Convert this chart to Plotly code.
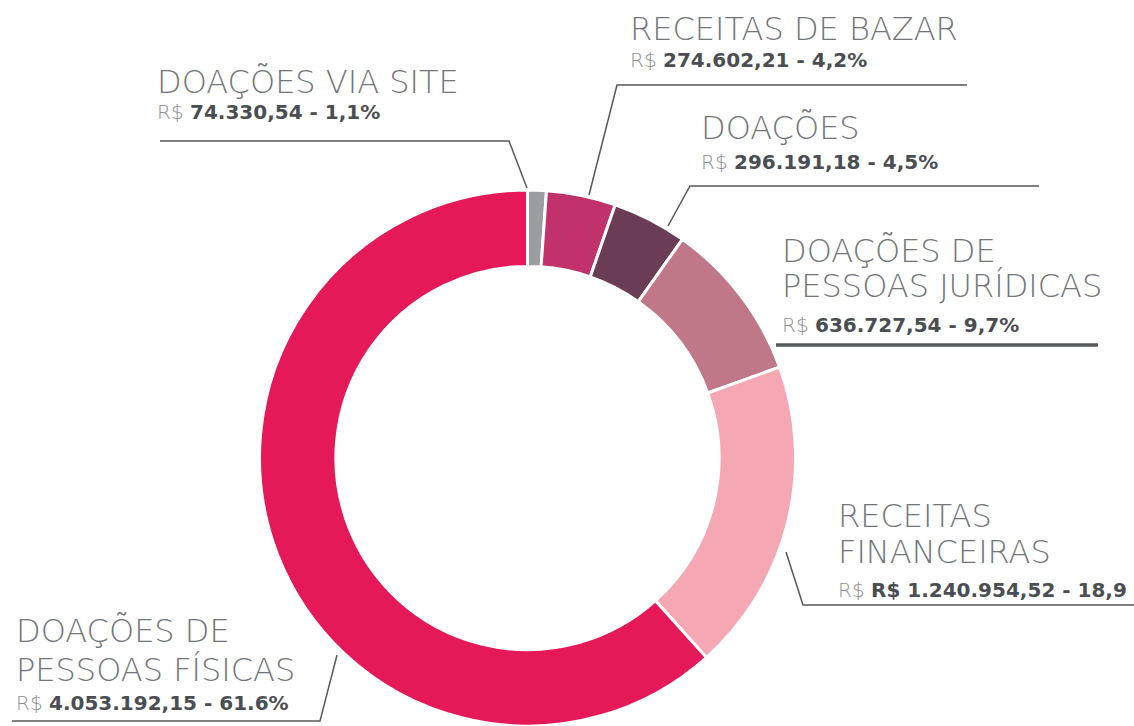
import plotly.graph_objects as go

# data
labels = [
    "DOAÇÕES VIA SITE",
    "RECEITAS DE BAZAR",
    "DOAÇÕES",
    "DOAÇÕES DE PESSOAS JURÍDICAS",
    "RECEITAS FINANCEIRAS",
    "DOAÇÕES DE PESSOAS FÍSICAS",
]
title_lines = [
    ["DOAÇÕES VIA SITE"],
    ["RECEITAS DE BAZAR"],
    ["DOAÇÕES"],
    ["DOAÇÕES DE", "PESSOAS JURÍDICAS"],
    ["RECEITAS", "FINANCEIRAS"],
    ["DOAÇÕES DE", "PESSOAS FÍSICAS"],
]
values = [74330.54, 274602.21, 296191.18, 636727.54, 1240954.52, 4053192.15]
value_texts = [
    "74.330,54 - 1,1%",
    "274.602,21 - 4,2%",
    "296.191,18 - 4,5%",
    "636.727,54 - 9,7%",
    "R$ 1.240.954,52 - 18,9",
    "4.053.192,15 - 61.6%",
]
colors = ["#9a9ea2", "#c1326b", "#6a3d55", "#c07787", "#f5a7b4", "#e51858"]

W, H = 1134, 726


def fx(x):
    return x / W


def fy(y):
    return 1 - y / H


# label layout (pixel positions: left x, title baselines, value baseline)
label_x = [156, 629, 700, 781, 837, 15]
title_base = [[94], [41], [140], [263, 298], [528, 564], [643, 682]]
value_base = [120, 68, 170, 333, 598, 711]
leaders = [
    [(160, 141), (509, 141), (527, 188)],
    [(967, 85), (617, 85), (589, 195)],
    [(1039, 186), (690, 186), (668, 226)],
    [(776, 345), (1098, 345)],
    [(786, 552), (803, 605), (1134, 605)],
    [(12, 721), (320, 721), (337, 655)],
]
leader_width = [1.5, 1.5, 1.5, 3.5, 1.5, 1.5]

fig = go.Figure()

fig.add_trace(
    go.Pie(
        labels=labels,
        values=values,
        hole=0.715,
        sort=False,
        direction="clockwise",
        rotation=0,
        textinfo="none",
        hoverinfo="label+value+percent",
        marker=dict(colors=colors, line=dict(color="white", width=3)),
        domain=dict(x=[fx(259.5), fx(795.5)], y=[0, fy(190)]),
        showlegend=False,
    )
)

title_size = 32
value_size = 20
font_family = "DejaVu Sans, Open Sans, sans-serif"

annotations = []
for i in range(len(labels)):
    for line, base in zip(title_lines[i], title_base[i]):
        annotations.append(
            dict(
                x=fx(label_x[i]),
                y=fy(base + 0.24 * title_size),
                xref="paper",
                yref="paper",
                xanchor="left",
                yanchor="bottom",
                text=line,
                showarrow=False,
                borderpad=0,
                font=dict(family=font_family, size=title_size, color="#72767b", weight=200),
            )
        )
    annotations.append(
        dict(
            x=fx(label_x[i]),
            y=fy(value_base[i] + 0.24 * value_size),
            xref="paper",
            yref="paper",
            xanchor="left",
            yanchor="bottom",
            text="<span style='font-weight:200;color:#8b8e93'>R$ </span><b>" + value_texts[i] + "</b>",
            showarrow=False,
            borderpad=0,
            font=dict(family=font_family, size=value_size, color="#4a4d52"),
        )
    )

shapes = []
for pts, lw in zip(leaders, leader_width):
    path = "M " + " L ".join(f"{fx(x)},{fy(y)}" for x, y in pts)
    shapes.append(
        dict(
            type="path",
            path=path,
            xref="paper",
            yref="paper",
            line=dict(color="#55585c", width=lw),
        )
    )

fig.update_layout(
    width=W,
    height=H,
    template="plotly_white",
    paper_bgcolor="white",
    plot_bgcolor="white",
    margin=dict(t=0, r=0, b=0, l=0),
    annotations=annotations,
    shapes=shapes,
)

fig.write_html(
    "out.html",
    config={"displayModeBar": False},
    post_script="document.body.style.margin='0';document.body.style.overflow='hidden';",
)
